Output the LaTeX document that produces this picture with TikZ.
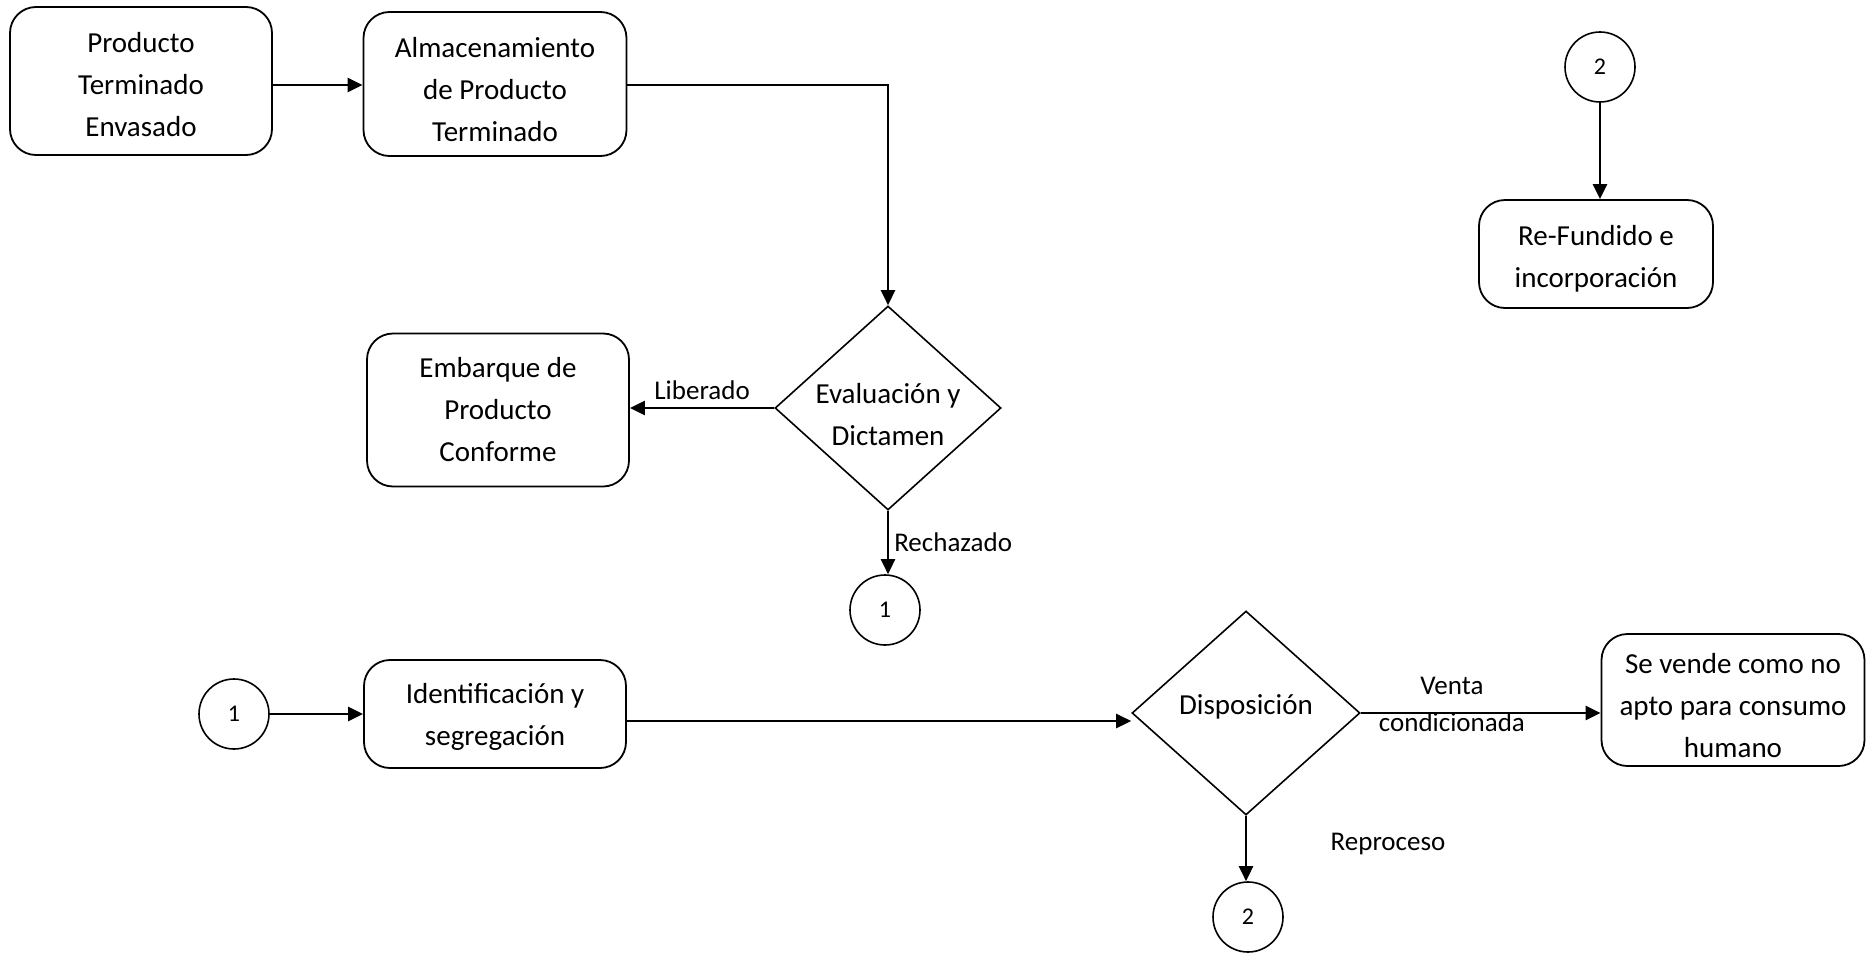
\documentclass[tikz,border=0pt]{standalone}
\usepackage{fontspec}
\setmainfont{Carlito}
\usetikzlibrary{shapes.geometric,arrows.meta}
\newcommand\dnstrut[1]{\rule{0pt}{#1}}
\begin{document}
\begin{tikzpicture}[x=1pt,y=-1pt,
  box/.style={draw, line width=1.8pt, rounded corners=26pt, align=center, font=\fontsize{29}{42}\selectfont, inner sep=0pt},
  dia/.style={draw, diamond, line width=1.6pt, inner sep=0pt},
  diatext/.style={align=center, font=\fontsize{29}{42}\selectfont, inner sep=0pt},
  conn/.style={draw, circle, line width=1.6pt, minimum size=70pt, inner sep=0pt, font=\fontsize{24}{28}\selectfont},
  arr/.style={line width=2.5pt, -{Triangle[length=15pt,width=14pt]}},
  lbl/.style={font=\fontsize{27}{32}\selectfont, inner sep=2pt}]
\useasboundingbox (0,0) rectangle (1869,953);

\node[box, minimum width=262pt, minimum height=148pt] (a) at (141,81) {\dnstrut{27pt}Producto\\Terminado\\Envasado};
\node[box, minimum width=263pt, minimum height=144pt] (b) at (495,84) {\dnstrut{31pt}Almacenamiento\\de Producto\\Terminado};
\node[dia, minimum width=226pt, minimum height=204pt] (d1) at (888,408) {};
\node[diatext] (d1t) at (888,415) {Evaluación y\\Dictamen};
\node[box, minimum width=262pt, minimum height=153pt] (c) at (498,410) {Embarque de\\Producto\\Conforme};
\node[conn] (c1) at (885,610) {1};
\node[conn] (c1b) at (234,714) {1};
\node[box, minimum width=262pt, minimum height=108pt] (d) at (495,714) {\dnstrut{26pt}Identificación y\\segregación};
\node[dia, minimum width=228pt, minimum height=204pt] (d2) at (1246,713) {};
\node[diatext] (d2t) at (1246,707) {Disposición};
\node[box, minimum width=263pt, minimum height=132pt] (e) at (1733,700) {\dnstrut{32pt}Se vende como no\\apto para consumo\\humano};
\node[conn] (c2) at (1248,917) {2};
\node[conn] (c2b) at (1600,67) {2};
\node[box, minimum width=234pt, minimum height=108pt] (f) at (1596,254) {\dnstrut{29pt}Re-Fundido e\\incorporación};

\draw[arr] (a.east |- 0,85) -- (b.west |- 0,85);
\draw[arr] (b.east |- 0,85) -| (d1.north);
\draw[arr] (d1.west) -- (c.east |- d1.west) node[lbl, midway, above=5pt] {Liberado};
\draw[arr] (d1.south) -- (d1.south |- c1.north) node[lbl, midway, right=3pt] {Rechazado};
\draw[arr] (c1b.east) -- (d.west |- c1b.east);
\draw[arr] (d.east |- 0,721) -- (d2.west |- 0,721);
\draw[arr] (d2.east) -- (e.west |- d2.east)
  node[lbl, pos=0.38, above=15pt] {Venta}
  node[lbl, pos=0.38, below=-4pt] {condicionada};
\draw[arr] (d2.south) -- (d2.south |- c2.north);
\node[lbl] (rp) at (1388,844) {Reproceso};
\draw[arr] (c2b.south) -- (c2b.south |- f.north);
\end{tikzpicture}
\end{document}
